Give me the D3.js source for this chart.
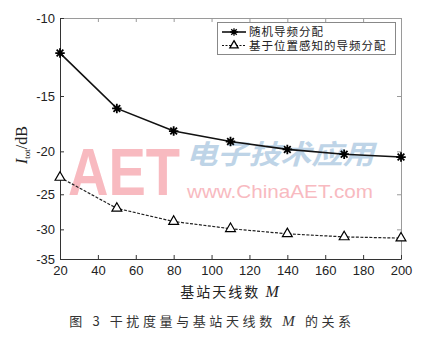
<!doctype html>
<html lang="zh">
<head>
<meta charset="utf-8">
<script src="https://d3js.org/d3.v7.min.js"></script>
<style>
  body { margin: 0; background: #fff; }
  svg { display: block; }
  .tick text { font-family: "Liberation Sans", Arial, sans-serif; font-size: 13px; fill: #222; }
</style>
</head>
<body>
<div id="chart"></div>
<script>
// antenna counts M
const antennas = [20, 50, 80, 110, 140, 170, 200];
// interference (dB)
const randomPilot = [-12.0, -16.0, -18.0, -19.0, -19.8, -20.3, -20.6];
const locationPilot = [-22.9, -26.9, -28.8, -29.9, -30.7, -31.2, -31.4];
const xTicks = [20, 40, 60, 80, 100, 120, 140, 160, 180, 200];
const yTicks = [-10, -15, -20, -25, -30, -35];
const legendLabels = ["随机导频分配", "基于位置感知的导频分配"];

const width = 425, height = 338;
const plotL = 60, plotR = 401, plotT = 18, plotB = 259;

const svg = d3.select("#chart").append("svg")
    .attr("width", width)
    .attr("height", height);

const x = d3.scaleLinear().domain([20, 200]).range([plotL, plotR]);
// the original axis is logarithmic in |dB|
const y = d3.scaleLog().domain([-10, -35]).range([plotT, plotB]);

// watermark
const wm = svg.append("g").attr("opacity", 0.75);
wm.append("text")
    .attr("x", 68).attr("y", 195)
    .attr("textLength", 112).attr("lengthAdjust", "spacingAndGlyphs")
    .style("font", "bold 66px 'Liberation Sans', sans-serif")
    .attr("fill", "#f6a3ab")
    .text("AET");
wm.append("text")
    .attr("x", 186).attr("y", 164)
    .attr("textLength", 188).attr("lengthAdjust", "spacingAndGlyphs")
    .style("font", "italic bold 27px 'Noto Sans CJK SC', sans-serif")
    .attr("fill", "#a9c6e0")
    .text("电子技术应用");
wm.append("text")
    .attr("x", 187).attr("y", 198)
    .attr("textLength", 186).attr("lengthAdjust", "spacingAndGlyphs")
    .style("font", "19px 'Liberation Sans', sans-serif")
    .attr("fill", "#f6a3ab")
    .text("www.ChinaAET.com");

// frame: top and right in grey, left and bottom dark
svg.append("g")
    .attr("transform", `translate(0,${plotT})`)
    .call(d3.axisTop(x).tickValues(xTicks).tickSize(-4).tickSizeOuter(0).tickFormat(""))
    .call(g => g.selectAll("path,line").attr("stroke", "#9a9a9a"));
svg.append("g")
    .attr("transform", `translate(${plotR},0)`)
    .call(d3.axisRight(y).tickValues(yTicks).tickSize(-4).tickSizeOuter(0).tickFormat(""))
    .call(g => g.selectAll("path,line").attr("stroke", "#9a9a9a"));

svg.append("g")
    .attr("transform", `translate(0,${plotB})`)
    .call(d3.axisBottom(x).tickValues(xTicks).tickSize(-4).tickSizeOuter(0).tickPadding(7))
    .call(g => g.selectAll("path,line").attr("stroke", "#333"));
svg.append("g")
    .attr("transform", `translate(${plotL},0)`)
    .call(d3.axisLeft(y).tickValues(yTicks).tickSize(-4).tickSizeOuter(0).tickPadding(5)
        .tickFormat(d => String(d)))
    .call(g => g.selectAll("path,line").attr("stroke", "#333"));

// MATLAB-like '*' marker
const star = {
  draw(ctx, size) {
    const r = Math.sqrt(size) / 2;
    for (let i = 0; i < 4; i++) {
      const a = i * Math.PI / 4;
      ctx.moveTo(-r * Math.cos(a), -r * Math.sin(a));
      ctx.lineTo(r * Math.cos(a), r * Math.sin(a));
    }
  }
};

const line = d3.line().x((d, i) => x(antennas[i])).y(d => y(d));

svg.append("path")
    .datum(randomPilot)
    .attr("fill", "none")
    .attr("stroke", "#111")
    .attr("stroke-width", 1.6)
    .attr("d", line);

svg.append("path")
    .datum(locationPilot)
    .attr("fill", "none")
    .attr("stroke", "#222")
    .attr("stroke-width", 1.2)
    .attr("stroke-dasharray", "3,1.5")
    .attr("d", line);

svg.append("g").selectAll("path")
    .data(randomPilot)
    .join("path")
    .attr("transform", (d, i) => `translate(${x(antennas[i])},${y(d)})`)
    .attr("d", d3.symbol(star, 90))
    .attr("stroke", "#000")
    .attr("stroke-width", 1.8)
    .attr("fill", "none");

svg.append("g").selectAll("path")
    .data(locationPilot)
    .join("path")
    .attr("transform", (d, i) => `translate(${x(antennas[i])},${y(d)})`)
    .attr("d", d3.symbol(d3.symbolTriangle, 42))
    .attr("stroke", "#000")
    .attr("stroke-width", 1.2)
    .attr("fill", "#fff");

// legend
const lg = svg.append("g");
lg.append("rect")
    .attr("x", 217.5).attr("y", 22.5).attr("width", 178).attr("height", 32)
    .attr("fill", "#fff").attr("stroke", "#888").attr("stroke-width", 1);
const rows = [
  {y: 32, dash: null, sym: star, size: 60, sw: 1.6},
  {y: 45.5, dash: "2,1.5", sym: d3.symbolTriangle, size: 30, sw: 1.1}
];
rows.forEach((r, i) => {
  lg.append("line")
      .attr("x1", 222).attr("x2", 246).attr("y1", r.y).attr("y2", r.y)
      .attr("stroke", "#111").attr("stroke-width", r.sw)
      .attr("stroke-dasharray", r.dash);
  lg.append("path")
      .attr("transform", `translate(234,${r.y})`)
      .attr("d", d3.symbol(r.sym, r.size))
      .attr("stroke", "#000").attr("stroke-width", 1.3)
      .attr("fill", i ? "#fff" : "none");
  lg.append("text")
      .attr("x", 249).attr("y", r.y + 4.2)
      .attr("letter-spacing", "1px")
      .style("font", "11.5px 'Noto Sans CJK SC', sans-serif")
      .attr("fill", "#222")
      .text(legendLabels[i]);
});

// axis titles
const xt = svg.append("text")
    .attr("x", (plotL + plotR) / 2).attr("y", 297)
    .attr("text-anchor", "middle")
    .attr("letter-spacing", "2px")
    .style("font", "14px 'Noto Sans CJK SC', sans-serif")
    .attr("fill", "#222");
xt.append("tspan").text("基站天线数 ");
xt.append("tspan").style("font", "italic 16px 'Liberation Serif', serif").text("M");

const yt = svg.append("text")
    .attr("transform", "translate(27,145) rotate(-90)")
    .attr("text-anchor", "middle")
    .style("font", "16px 'Liberation Serif', serif")
    .attr("fill", "#222");
yt.append("tspan").style("font-style", "italic").text("I");
yt.append("tspan").attr("dy", 3).style("font-size", "9px").text("tot");
yt.append("tspan").attr("dy", -3).text("/dB");

// caption
const cap = svg.append("text")
    .attr("x", 212).attr("y", 326)
    .attr("text-anchor", "middle")
    .attr("letter-spacing", "3.6px")
    .style("font", "13px 'Noto Sans CJK SC', sans-serif")
    .attr("fill", "#333");
cap.append("tspan").text("图 3  干扰度量与基站天线数 ");
cap.append("tspan").style("font", "italic 15px 'Liberation Serif', serif").text("M");
cap.append("tspan").text(" 的关系");
</script>
</body>
</html>
